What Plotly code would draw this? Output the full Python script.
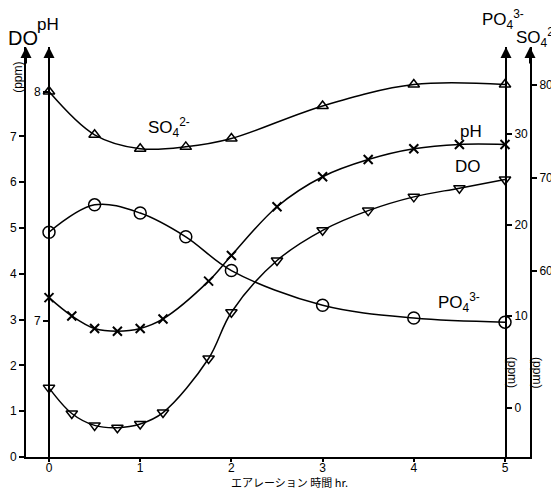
import plotly.graph_objects as go

# ---- data ----
t_fine = [0, 0.25, 0.5, 0.75, 1, 1.25, 1.75, 2, 2.5, 3, 3.5, 4, 4.5, 5]
do_vals = [1.51, 0.95, 0.69, 0.64, 0.72, 0.97, 2.15, 3.16, 4.29, 4.95, 5.38, 5.68, 5.87, 6.06]
ph_vals = [7.10, 7.02, 6.965, 6.953, 6.965, 7.007, 7.172, 7.284, 7.497, 7.628, 7.703, 7.750, 7.769, 7.769]
t_ion = [0, 0.5, 1, 1.5, 2, 3, 4, 5]
po4_vals = [19.2, 22.2, 21.3, 18.7, 15.0, 11.2, 9.8, 9.35]
so4_vals = [79.25, 74.6, 73.1, 73.3, 74.2, 77.7, 80.0, 80.0]

x_ticks = [0, 1, 2, 3, 4, 5]
do_ticks = [0, 1, 2, 3, 4, 5, 6, 7]
ph_ticks = [7, 8]
po4_ticks = [0, 10, 20, 30]
so4_ticks = [60, 70, 80]

FONT = "Liberation Sans, Arial, sans-serif"
BLACK = "black"

fig = go.Figure()

line = dict(color=BLACK, width=1.5, shape="spline", smoothing=1.0)

fig.add_trace(go.Scatter(x=t_fine, y=do_vals, mode="lines+markers", yaxis="y",
                         line=line, cliponaxis=False,
                         marker=dict(symbol="triangle-down-open", size=10, color=BLACK,
                                     line=dict(width=1.5, color=BLACK))))
fig.add_trace(go.Scatter(x=t_fine, y=ph_vals, mode="lines+markers", yaxis="y2",
                         line=line, cliponaxis=False,
                         marker=dict(symbol="x-thin-open", size=9, color=BLACK,
                                     line=dict(width=2, color=BLACK))))
fig.add_trace(go.Scatter(x=t_ion, y=po4_vals, mode="lines+markers", yaxis="y3",
                         line=line, cliponaxis=False,
                         marker=dict(symbol="circle-open", size=12, color=BLACK,
                                     line=dict(width=1.5, color=BLACK))))
fig.add_trace(go.Scatter(x=t_ion, y=so4_vals, mode="lines+markers", yaxis="y4",
                         line=line, cliponaxis=False,
                         marker=dict(symbol="triangle-up-open", size=10, color=BLACK,
                                     line=dict(width=1.5, color=BLACK))))

tickfont = dict(family=FONT, size=12, color=BLACK)
common_y = dict(showgrid=False, zeroline=False, showline=True, linecolor=BLACK,
                linewidth=2, ticks="outside", ticklen=5, tickwidth=1.5,
                tickcolor=BLACK, tickfont=tickfont, automargin=False)

# the page body adds an 8px offset, so the figure is 8px smaller on each side
fig.update_layout(
    width=551, height=483,
    margin=dict(l=18, r=29, t=39, b=34, autoexpand=False),
    paper_bgcolor="white", plot_bgcolor="white",
    showlegend=False,
    font=dict(family=FONT, color=BLACK),
    xaxis=dict(range=[-0.2522, 5.2741], tickvals=x_ticks, showgrid=False,
               zeroline=False, showline=True, linecolor=BLACK, linewidth=2,
               ticks="outside", ticklen=3, tickwidth=1.5, tickcolor=BLACK,
               tickfont=tickfont, ticklabelstandoff=-4, automargin=False),
    yaxis=dict(range=[0, 8.952], tickvals=do_ticks, side="left", **common_y),
    yaxis2=dict(range=[6.404, 8.1945], tickvals=ph_ticks, overlaying="y",
                anchor="free", position=0.0456, side="left", **common_y),
    yaxis3=dict(range=[-5.42, 39.49], tickvals=po4_ticks, overlaying="y",
                anchor="free", position=0.9524, side="right", **common_y),
    yaxis4=dict(range=[39.95, 84.04], tickvals=so4_ticks, overlaying="y",
                anchor="x", side="right", **common_y),
)

C = dict(xanchor="center", yanchor="middle", showarrow=False)

ann = []
# arrows on top of vertical axes
for xp in [0.0, 0.0456, 0.9524, 1.0]:
    ann.append(dict(x=xp, y=1.0, xref="paper", yref="paper", text="", showarrow=True,
                    ax=0, ay=18, arrowhead=2, arrowsize=1.1, arrowwidth=2,
                    arrowcolor=BLACK))

lab = dict(family=FONT, size=17, color=BLACK)
# curve labels (data coords on DO axis)
ann += [
    dict(x=1.316, y=7.19, xref="x", yref="y", text="SO<sub>4</sub><sup>2-</sup>", font=lab, **C),
    dict(x=4.63, y=7.11, xref="x", yref="y", text="pH", font=lab, **C),
    dict(x=4.59, y=6.35, xref="x", yref="y", text="DO", font=lab, **C),
    dict(x=4.50, y=3.38, xref="x", yref="y", text="PO<sub>4</sub><sup>3-</sup>", font=lab, **C),
]
# axis titles at top
ann += [
    dict(x=-0.005, y=1.022, xref="paper", yref="paper", text="DO",
         font=dict(family=FONT, size=20, color=BLACK), **C),
    dict(x=0.0446, y=1.054, xref="paper", yref="paper", text="pH",
         font=dict(family=FONT, size=17, color=BLACK), **C),
    dict(x=0.946, y=1.068, xref="paper", yref="paper", text="PO<sub>4</sub><sup>3-</sup>",
         font=dict(family=FONT, size=17, color=BLACK), **C),
    dict(x=1.014, y=1.022, xref="paper", yref="paper", text="SO<sub>4</sub><sup>2-</sup>",
         font=dict(family=FONT, size=17, color=BLACK), **C),
]
small = dict(family=FONT, size=12, color=BLACK)
ann += [
    dict(x=-0.016, y=0.927, xref="paper", yref="paper", text="(ppm)", textangle=-90,
         font=small, **C),
    dict(x=0.965, y=0.207, xref="paper", yref="paper", text="(ppm)", textangle=90,
         font=small, **C),
    dict(x=1.014, y=0.207, xref="paper", yref="paper", text="(ppm)", textangle=90,
         font=small, **C),
    dict(x=0.523, y=-0.062, xref="paper", yref="paper",
         text="エアレーション 時間 hr.",
         font=dict(family="Noto Sans CJK JP", size=11, color=BLACK), **C),
]
fig.update_layout(annotations=ann)

fig.write_html("out.html")
